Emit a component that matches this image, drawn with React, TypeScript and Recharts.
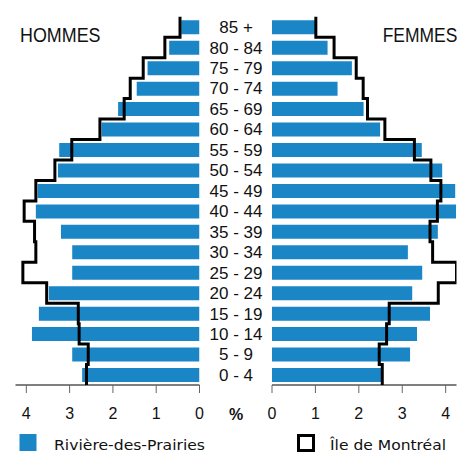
import { ComposedChart, Bar, Line, XAxis, YAxis } from 'recharts';

const ages = ['85 +', '80 - 84', '75 - 79', '70 - 74', '65 - 69', '60 - 64', '55 - 59', '50 - 54', '45 - 49',
  '40 - 44', '35 - 39', '30 - 34', '25 - 29', '20 - 24', '15 - 19', '10 - 14', '5 - 9', '0 - 4'];

// Rivière-des-Prairies (bars) and Île de Montréal (outline), % of population
const rdpHommes = [0.42, 0.70, 1.20, 1.45, 1.88, 2.26, 3.24, 3.27, 3.74, 3.78, 3.20, 2.94, 2.94, 3.48, 3.71, 3.87, 2.94, 2.71];
const mtlHommes = [0.45, 0.80, 1.30, 1.60, 1.74, 2.30, 2.95, 3.34, 3.78, 4.05, 3.81, 3.78, 4.08, 3.53, 2.80, 2.78, 2.57, 2.61];
const rdpFemmes = [1.00, 1.28, 1.84, 1.51, 2.11, 2.49, 3.45, 3.92, 4.22, 4.24, 3.82, 3.13, 3.46, 3.23, 3.64, 3.34, 3.18, 2.53];
const mtlFemmes = [1.01, 1.43, 1.94, 2.10, 2.20, 2.60, 3.28, 3.66, 3.89, 3.81, 3.64, 3.70, 4.25, 3.83, 2.70, 2.64, 2.47, 2.54];

const xTicks = [0, 1, 2, 3, 4];

const hommes = ages.map((age, i) => ({ age, rdp: rdpHommes[i], mtl: mtlHommes[i] }));
const femmes = ages.map((age, i) => ({ age, rdp: rdpFemmes[i], mtl: mtlFemmes[i] }));

const BLUE = '#1a86c6';
const FONT = '"Liberation Sans", Arial, sans-serif';
const LEGEND_FONT = '"DejaVu Sans", Verdana, sans-serif';

const TOP = 16.8;
const LEFT_W = 272;
const GAP = 72.5;
const PAD = 20; // room for the right chart's "0" tick label

// step outline going down the bands: vertical through each band, horizontal at band edges
const stepBands = (context: any) => {
  let pts: number[][] = [];
  return {
    areaStart() {},
    areaEnd() {},
    lineStart() { pts = []; },
    point(x: number, y: number) { pts.push([x, y]); },
    lineEnd() {
      const n = pts.length;
      if (!n) return;
      const half = n > 1 ? (pts[1][1] - pts[0][1]) / 2 : 10;
      context.moveTo(pts[0][0], pts[0][1] - half);
      for (let i = 0; i < n; i++) {
        const yEnd = i < n - 1 ? (pts[i][1] + pts[i + 1][1]) / 2 : pts[i][1] + half;
        context.lineTo(pts[i][0], yEnd);
        if (i < n - 1) context.lineTo(pts[i + 1][0], yEnd);
      }
    },
  };
};

const AgeTick = (props: any) => {
  const { y, payload } = props;
  return (
    <text x={LEFT_W - GAP + GAP / 2 + 0.3} y={y} dy={6.1} textAnchor="middle"
      style={{ fontFamily: FONT, fontSize: 17, fill: '#111' }}>
      {payload.value}
    </text>
  );
};

const axisProps = {
  type: 'number' as const,
  domain: [0, 4.25],
  ticks: xTicks,
  interval: 0,
  height: 45,
  tickSize: 8,
  tickMargin: 15,
  axisLine: { stroke: '#000' },
  tickLine: { stroke: '#666' },
  tick: { fontFamily: FONT, fontSize: 16, fill: '#111' },
  allowDataOverflow: true,
};

export default function App() {
  return (
    <div style={{ position: 'absolute', left: 0, top: 0, width: 470, height: 453, background: '#fff' }}>
      <div style={{ position: 'absolute', left: 0, top: 0 }}>
        <ComposedChart layout="vertical" width={LEFT_W} height={430} data={hommes}
          margin={{ top: TOP, right: 0, bottom: 0, left: 15.5 }} barCategoryGap="17%">
          <XAxis {...axisProps} reversed />
          <YAxis type="category" dataKey="age" orientation="right" width={GAP}
            axisLine={false} tickLine={false} tick={<AgeTick />} interval={0} />
          <Bar dataKey="rdp" fill={BLUE} isAnimationActive={false} />
          <Line dataKey="mtl" type={stepBands as any} stroke="#000" strokeWidth={3} dot={false}
            strokeLinejoin="miter" isAnimationActive={false} />
        </ComposedChart>
      </div>
      <div style={{ position: 'absolute', left: LEFT_W - PAD, top: 0 }}>
        <ComposedChart layout="vertical" width={470 - LEFT_W + PAD} height={430} data={femmes}
          margin={{ top: TOP, right: 13.5, bottom: 0, left: PAD }} barCategoryGap="17%">
          <XAxis {...axisProps} />
          <YAxis type="category" dataKey="age" hide />
          <Bar dataKey="rdp" fill={BLUE} isAnimationActive={false} />
          <Line dataKey="mtl" type={stepBands as any} stroke="#000" strokeWidth={3} dot={false}
            strokeLinejoin="miter" isAnimationActive={false} />
        </ComposedChart>
      </div>
      <svg width={470} height={453} style={{ position: 'absolute', left: 0, top: 0, pointerEvents: 'none' }}>
        <text x={20} y={42.3} fontFamily={FONT} fontSize={20} textLength={80.5} lengthAdjust="spacingAndGlyphs" fill="#111">HOMMES</text>
        <text x={382.7} y={42.3} fontFamily={FONT} fontSize={20} textLength={74.6} lengthAdjust="spacingAndGlyphs" fill="#111">FEMMES</text>
        <text x={236} y={419.5} fontFamily={FONT} fontSize={16} fontWeight="bold" textAnchor="middle" fill="#111">%</text>
        <rect x={19.5} y={434} width={17} height={17} fill={BLUE} />
        <text x={54} y={449.5} fontFamily={LEGEND_FONT} fontSize={14.5} textLength={151} lengthAdjust="spacingAndGlyphs" fill="#111">Rivière-des-Prairies</text>
        <rect x={298.5} y={435.5} width={15} height={15} fill="none" stroke="#000" strokeWidth={3} />
        <text x={330} y={449.5} fontFamily={LEGEND_FONT} fontSize={14.5} textLength={116} lengthAdjust="spacingAndGlyphs" fill="#111">Île de Montréal</text>
      </svg>
    </div>
  );
}
